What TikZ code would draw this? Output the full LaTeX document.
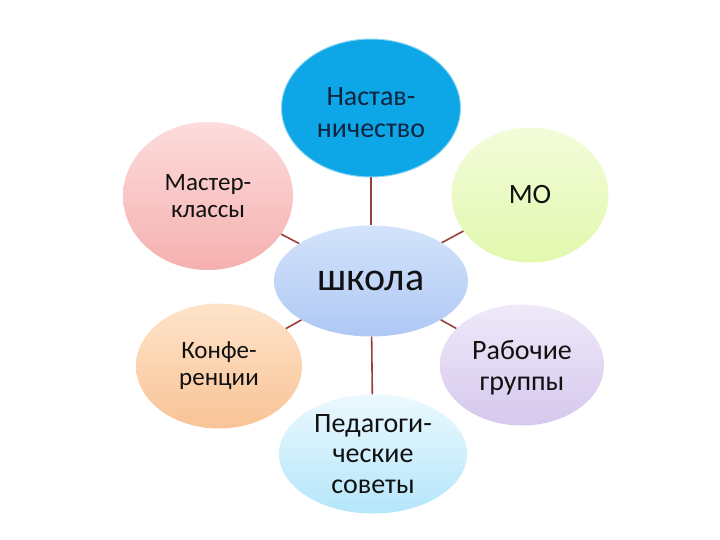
\documentclass[tikz,border=0pt]{standalone}
\usepackage{fontspec}
\setmainfont{Carlito}
\usetikzlibrary{shapes.geometric}
\definecolor{nastavfill}{HTML}{0DA6E7}
\definecolor{nastavrim}{HTML}{8AD6F4}
\definecolor{nastavtext}{HTML}{10243F}
\definecolor{pinktop}{HTML}{FDDCDC}
\definecolor{pinkbot}{HTML}{F5B0B0}
\definecolor{greentop}{HTML}{F3FCDA}
\definecolor{greenbot}{HTML}{E2F8AE}
\definecolor{schooltop}{HTML}{D3E3FB}
\definecolor{schoolbot}{HTML}{AFC8F4}
\definecolor{orangetop}{HTML}{FEE4CA}
\definecolor{orangebot}{HTML}{F9C396}
\definecolor{lilactop}{HTML}{EFE9F9}
\definecolor{lilacbot}{HTML}{D5C8ED}
\definecolor{cyantop}{HTML}{EBF9FE}
\definecolor{cyanbot}{HTML}{B4E6FA}
\definecolor{linkred}{HTML}{9A3E3E}
\definecolor{ink}{HTML}{111111}
\tikzset{
  petal/.style={ellipse, inner sep=0pt, align=center, text=ink, font=\fontsize{25}{27}\selectfont},
  bigpetal/.style={petal, font=\fontsize{28}{30.5}\selectfont},
  hub/.style={petal, font=\fontsize{40}{44}\selectfont},
  link/.style={draw=linkred, line width=1.6pt}
}

\begin{document}
\begin{tikzpicture}[x=1pt,y=-1pt]
  \useasboundingbox (0,0) rectangle (720,540);
  % centre
  \node[hub, top color=schooltop, bottom color=schoolbot,
        minimum width=194pt, minimum height=111pt] (school) at (371,281) {школа};
  % petals
  \node[bigpetal, font=\fontsize{28}{32}\selectfont, fill=nastavfill, draw=nastavrim, line width=1pt, text=nastavtext,
        minimum width=179pt, minimum height=138pt, text height=59pt] (nastav) at (371,108) {Настав-\\ничество};
  \node[petal, top color=pinktop, bottom color=pinkbot,
        minimum width=170pt, minimum height=148pt] (master) at (208,196) {Мастер-\\классы};
  \node[bigpetal, top color=greentop, bottom color=greenbot,
        minimum width=157pt, minimum height=135pt] (mo) at (530,195) {МО};
  \node[petal, top color=orangetop, bottom color=orangebot,
        minimum width=166pt, minimum height=125pt] (konf) at (219,366) {Конфе-\\ренции};
  \node[bigpetal, top color=lilactop, bottom color=lilacbot,
        minimum width=164pt, minimum height=121pt, text height=55pt] (rabochie) at (522,365) {Рабочие\\группы};
  \node[bigpetal, top color=cyantop, bottom color=cyanbot,
        minimum width=188pt, minimum height=119pt] (pedsovet) at (373,454) {Педагоги-\\ческие\\советы};
  % links
  \foreach \p in {nastav,master,mo,konf,rabochie,pedsovet}
    \draw[link] (school) -- (\p);
\end{tikzpicture}
\end{document}
